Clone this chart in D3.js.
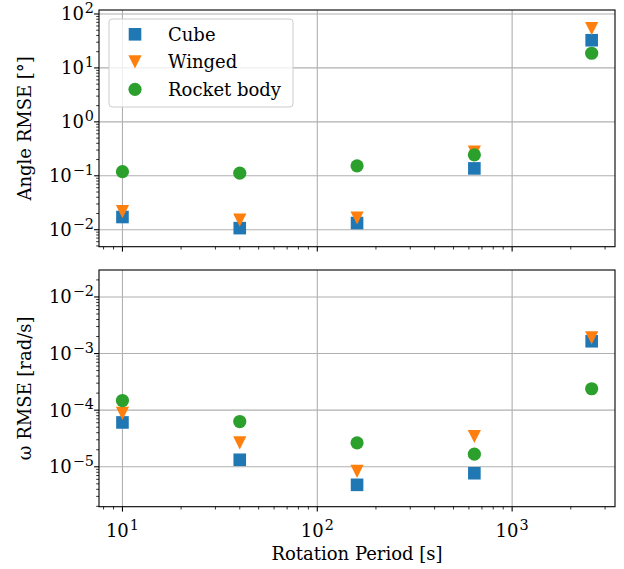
<!DOCTYPE html>
<html><head><meta charset="utf-8">
<script src="https://cdn.jsdelivr.net/npm/d3@7"></script>
<style>body{margin:0;background:#fff}svg{display:block;font-family:"DejaVu Serif",serif}</style>
</head><body><svg id="c" width="624" height="569"></svg>
<script>
const periods = [10, 40, 160, 640, 2560];
const seriesNames = ["Cube", "Winged", "Rocket body"];
const angleCube = [0.0172, 0.0107, 0.0133, 0.137, 32.6];
const angleWinged = [0.0216, 0.015, 0.0165, 0.275, 53.5];
const angleRocket = [0.119, 0.112, 0.153, 0.245, 18.7];
const omegaCube = [6.07e-5, 1.33e-5, 4.8e-6, 7.7e-6, 1.65e-3];
const omegaWinged = [8.8e-5, 2.65e-5, 8.3e-6, 3.43e-5, 1.89e-3];
const omegaRocket = [1.48e-4, 6.3e-5, 2.65e-5, 1.67e-5, 2.39e-4];
const xTicks = [10, 100, 1000];
const angleTicks = [1e-2, 1e-1, 1, 10, 100];
const omegaTicks = [1e-5, 1e-4, 1e-3, 1e-2];
const colors = ["#1f77b4", "#ff7f0e", "#2ca02c"];
const shapes = ["square", "tri", "circle"];

const svg = d3.select("#c");
const L = 99, R = 615;
const x = d3.scaleLog().domain([Math.pow(10, 0.8796), Math.pow(10, 3.528)]).range([L, R]);
const FS = 18;

function sup(sel, exp) {
  sel.text(null);
  sel.append("tspan").text("10");
  sel.append("tspan").attr("dx", 1).attr("dy", "-0.5em").attr("font-size", FS * 0.8).text(exp < 0 ? "\u2212" + (-exp) : String(exp));
}

function marker(g, i, cx, cy) {
  if (shapes[i] === "tri") {
    const h = 6.6;
    g.append("path").attr("d", `M${cx - h},${cy - h}L${cx + h},${cy - h}L${cx},${cy + h}Z`).attr("fill", colors[i]);
  } else if (shapes[i] === "square") {
    g.append("rect").attr("x", cx - 6.3).attr("y", cy - 6.3).attr("width", 12.6).attr("height", 12.6).attr("fill", colors[i]);
  } else {
    g.append("circle").attr("cx", cx).attr("cy", cy).attr("r", 6.6).attr("fill", colors[i]);
  }
}

function minorTicks(domain) {
  const out = [];
  const lo = Math.floor(Math.log10(domain[0])), hi = Math.ceil(Math.log10(domain[1]));
  for (let e = lo; e <= hi; e++) for (let m = 2; m <= 9; m++) {
    const v = m * Math.pow(10, e);
    if (v >= domain[0] && v <= domain[1]) out.push(v);
  }
  return out;
}

function panel(top, bottom, yDomain, yTicks, data, ylabel, showX) {
  const y = d3.scaleLog().domain(yDomain).range([bottom, top]);
  const g = svg.append("g");
  g.selectAll(".gx").data(xTicks).enter().append("line")
    .attr("x1", d => x(d)).attr("x2", d => x(d)).attr("y1", top).attr("y2", bottom)
    .attr("stroke", "#b0b0b0").attr("stroke-width", 1.1);
  g.selectAll(".gy").data(yTicks).enter().append("line")
    .attr("x1", L).attr("x2", R).attr("y1", d => y(d)).attr("y2", d => y(d))
    .attr("stroke", "#b0b0b0").attr("stroke-width", 1.1);
  data.forEach((vals, i) => {
    periods.forEach((p, j) => marker(g, i, x(p), y(vals[j])));
  });
  g.append("rect").attr("x", L).attr("y", top).attr("width", R - L).attr("height", bottom - top)
    .attr("fill", "none").attr("stroke", "#000").attr("stroke-width", 1.1);
  g.selectAll(".tx").data(xTicks).enter().append("line")
    .attr("x1", d => x(d)).attr("x2", d => x(d)).attr("y1", bottom).attr("y2", bottom + 4.9)
    .attr("stroke", "#000").attr("stroke-width", 1.1);
  g.selectAll(".mx").data(minorTicks(x.domain())).enter().append("line")
    .attr("x1", d => x(d)).attr("x2", d => x(d)).attr("y1", bottom).attr("y2", bottom + 2.8)
    .attr("stroke", "#000").attr("stroke-width", 0.8);
  g.selectAll(".ty").data(yTicks).enter().append("line")
    .attr("x1", L - 4.9).attr("x2", L).attr("y1", d => y(d)).attr("y2", d => y(d))
    .attr("stroke", "#000").attr("stroke-width", 1.1);
  g.selectAll(".my").data(minorTicks(y.domain())).enter().append("line")
    .attr("x1", L - 2.8).attr("x2", L).attr("y1", d => y(d)).attr("y2", d => y(d))
    .attr("stroke", "#000").attr("stroke-width", 0.8);
  g.selectAll(".ly").data(yTicks).enter().append("text")
    .attr("x", L - 5).attr("y", d => y(d) + 6.5).attr("text-anchor", "end").attr("font-size", FS)
    .each(function (d) { sup(d3.select(this), Math.round(Math.log10(d))); });
  if (showX) {
    g.selectAll(".lx").data(xTicks).enter().append("text")
      .attr("x", d => x(d)).attr("y", bottom + 30).attr("text-anchor", "middle").attr("font-size", FS)
      .each(function (d) { sup(d3.select(this), Math.round(Math.log10(d))); });
  }
  svg.append("text").attr("transform", `translate(31,${(top + bottom) / 2}) rotate(-90)`)
    .attr("text-anchor", "middle").attr("font-size", FS).text(ylabel);
  return y;
}

panel(10, 246.7, [Math.pow(10, -2.315), Math.pow(10, 2.074)], angleTicks,
  [angleCube, angleWinged, angleRocket], "Angle RMSE [\u00b0]", false);
panel(270, 506.7, [Math.pow(10, -5.705), Math.pow(10, -1.524)], omegaTicks,
  [omegaCube, omegaWinged, omegaRocket], "\u03c9 RMSE [rad/s]", true);

svg.append("text").attr("x", (L + R) / 2).attr("y", 560).attr("text-anchor", "middle")
  .attr("font-size", FS).text("Rotation Period [s]");

const lg = svg.append("g");
lg.append("rect").attr("x", 109).attr("y", 19).attr("width", 184).attr("height", 88).attr("rx", 3)
  .attr("fill", "#fff").attr("fill-opacity", 0.8).attr("stroke", "#cccccc").attr("stroke-width", 1);
seriesNames.forEach((n, i) => {
  const cy = 34.3 + i * 27.5;
  marker(lg, i, 135, cy);
  lg.append("text").attr("x", 168).attr("y", cy + 6.5).attr("font-size", FS).text(n);
});
</script></body></html>
